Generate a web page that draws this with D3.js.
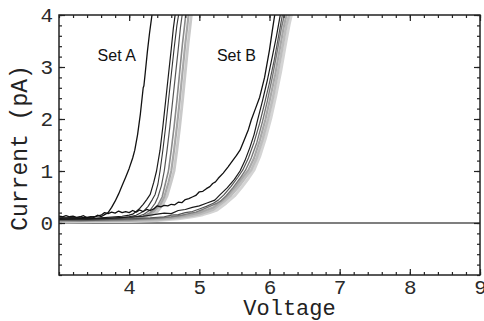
<!DOCTYPE html>
<html>
<head>
<meta charset="utf-8">
<script src="https://cdn.jsdelivr.net/npm/d3@7"></script>
<style>
  body { margin: 0; background: #fff; }
  .tick text { font-family: "Liberation Mono", monospace; font-size: 21px; fill: #2a2a2a; }
</style>
</head>
<body>
<div id="container"></div>
<script>
// tick labels
const xTicks = [4, 5, 6, 7, 8, 9];
const yTicks = [0, 1, 2, 3, 4];
const setLabels = ["Set A", "Set B"];

// Set A traces [voltage, current]
const setA1 = [[3.0,0.13],[3.05,0.12],[3.1,0.14],[3.15,0.12],[3.2,0.13],[3.25,0.11],[3.3,0.12],[3.35,0.14],[3.4,0.1],[3.45,0.12],[3.5,0.11],[3.55,0.15],[3.6,0.12],[3.65,0.16],[3.7,0.2],[3.75,0.3],[3.8,0.42],[3.85,0.56],[3.9,0.72],[3.95,0.88],[4.0,1.05],[4.05,1.25],[4.08,1.4],[4.12,1.7],[4.16,2.1],[4.2,2.6],[4.21,2.64],[4.23,2.9],[4.26,3.3],[4.29,3.65],[4.33,4.05]];
const setA2 = [[3.0,0.09],[3.2,0.1],[3.4,0.08],[3.6,0.1],[3.8,0.12],[3.9,0.13],[4.0,0.15],[4.05,0.17],[4.1,0.22],[4.15,0.28],[4.2,0.36],[4.25,0.45],[4.3,0.55],[4.35,0.78],[4.39,1.0],[4.44,1.4],[4.48,1.85],[4.52,2.35],[4.56,2.85],[4.6,3.35],[4.63,3.75],[4.66,4.05]];
const setA3 = [[3.0,0.07],[3.3,0.08],[3.6,0.08],[3.9,0.1],[4.0,0.12],[4.1,0.15],[4.2,0.22],[4.27,0.32],[4.33,0.45],[4.37,0.55],[4.41,0.75],[4.44,1.0],[4.48,1.4],[4.52,1.85],[4.56,2.35],[4.6,2.85],[4.64,3.35],[4.68,3.8],[4.71,4.05]];
const setA4 = [[3.0,0.06],[3.4,0.06],[3.8,0.08],[4.0,0.1],[4.1,0.12],[4.2,0.16],[4.3,0.25],[4.37,0.38],[4.41,0.5],[4.46,0.72],[4.5,1.0],[4.54,1.4],[4.58,1.85],[4.62,2.35],[4.66,2.85],[4.7,3.35],[4.73,3.75],[4.76,4.05]];
const setA5 = [[3.0,0.05],[3.3,0.04],[3.6,0.06],[3.9,0.07],[4.1,0.1],[4.2,0.13],[4.3,0.2],[4.4,0.32],[4.47,0.5],[4.52,0.78],[4.56,1.0],[4.6,1.4],[4.64,1.85],[4.68,2.35],[4.72,2.9],[4.76,3.45],[4.79,3.8],[4.81,4.05]];
const setA6 = [[3.0,0.04],[3.3,0.05],[3.6,0.04],[3.9,0.06],[4.1,0.08],[4.25,0.14],[4.35,0.22],[4.44,0.34],[4.5,0.5],[4.56,0.78],[4.6,1.0],[4.64,1.4],[4.68,1.85],[4.72,2.35],[4.76,2.9],[4.8,3.45],[4.83,3.8],[4.85,4.05]];
const setA7 = [[3.0,0.03],[3.3,0.04],[3.6,0.05],[3.9,0.05],[4.1,0.07],[4.3,0.14],[4.4,0.22],[4.48,0.36],[4.54,0.52],[4.6,0.8],[4.64,1.0],[4.68,1.4],[4.72,1.85],[4.76,2.35],[4.8,2.9],[4.84,3.45],[4.87,3.8],[4.89,4.05]];

// Set B traces [voltage, current]
const setB1 = [[3.0,0.1],[3.3,0.1],[3.5,0.12],[3.6,0.15],[3.65,0.2],[3.7,0.18],[3.75,0.21],[3.8,0.19],[3.85,0.23],[3.9,0.2],[3.95,0.22],[4.0,0.2],[4.05,0.24],[4.1,0.21],[4.15,0.25],[4.2,0.22],[4.25,0.26],[4.3,0.24],[4.35,0.27],[4.4,0.33],[4.45,0.31],[4.5,0.34],[4.55,0.33],[4.6,0.36],[4.65,0.35],[4.7,0.4],[4.75,0.39],[4.8,0.45],[4.85,0.47],[4.9,0.5],[4.95,0.53],[5.0,0.6],[5.05,0.61],[5.1,0.66],[5.15,0.7],[5.19,0.76],[5.23,0.79],[5.27,0.86],[5.34,0.96],[5.41,1.08],[5.48,1.21],[5.53,1.3],[5.58,1.4],[5.65,1.63],[5.7,1.8],[5.74,1.98],[5.8,2.2],[5.86,2.42],[5.93,2.8],[6.0,3.33],[6.04,3.7],[6.08,4.05]];
const setB2 = [[3.0,0.07],[3.4,0.08],[3.8,0.1],[4.2,0.13],[4.4,0.17],[4.5,0.19],[4.6,0.18],[4.7,0.24],[4.8,0.26],[4.9,0.3],[5.0,0.33],[5.1,0.38],[5.22,0.44],[5.3,0.55],[5.4,0.68],[5.5,0.84],[5.58,1.0],[5.65,1.2],[5.72,1.45],[5.78,1.7],[5.83,1.98],[5.9,2.35],[5.97,2.75],[6.04,3.2],[6.1,3.6],[6.16,4.05]];
const setB3 = [[3.0,0.06],[3.5,0.06],[4.0,0.08],[4.3,0.1],[4.5,0.12],[4.6,0.15],[4.7,0.16],[4.8,0.2],[4.9,0.22],[5.0,0.27],[5.1,0.32],[5.2,0.38],[5.27,0.44],[5.35,0.54],[5.45,0.7],[5.55,0.88],[5.62,1.02],[5.7,1.25],[5.78,1.55],[5.86,1.92],[5.93,2.3],[6.0,2.7],[6.07,3.15],[6.13,3.6],[6.19,4.05]];
const setB4 = [[3.0,0.05],[3.5,0.05],[4.0,0.06],[4.4,0.09],[4.6,0.12],[4.75,0.15],[4.85,0.18],[4.95,0.21],[5.05,0.26],[5.15,0.32],[5.25,0.38],[5.3,0.42],[5.38,0.52],[5.48,0.68],[5.58,0.86],[5.66,1.02],[5.74,1.25],[5.82,1.55],[5.9,1.95],[5.97,2.35],[6.04,2.8],[6.11,3.3],[6.17,3.75],[6.22,4.05]];
const setB5 = [[3.0,0.04],[3.5,0.05],[4.0,0.05],[4.4,0.08],[4.6,0.1],[4.8,0.14],[4.9,0.17],[5.0,0.2],[5.1,0.25],[5.2,0.3],[5.32,0.42],[5.42,0.55],[5.52,0.7],[5.62,0.88],[5.7,1.02],[5.78,1.25],[5.86,1.58],[5.94,1.98],[6.01,2.4],[6.08,2.85],[6.14,3.3],[6.2,3.75],[6.25,4.05]];
const setB6 = [[3.0,0.03],[3.5,0.04],[4.0,0.04],[4.4,0.06],[4.7,0.1],[4.9,0.14],[5.0,0.17],[5.1,0.21],[5.2,0.26],[5.34,0.4],[5.45,0.53],[5.56,0.7],[5.66,0.88],[5.74,1.02],[5.82,1.26],[5.9,1.6],[5.98,2.0],[6.05,2.42],[6.12,2.9],[6.18,3.35],[6.24,3.8],[6.29,4.05]];
const setB7 = [[3.0,0.02],[3.5,0.03],[4.0,0.03],[4.4,0.05],[4.7,0.08],[4.9,0.12],[5.05,0.16],[5.15,0.2],[5.25,0.25],[5.38,0.38],[5.5,0.52],[5.6,0.68],[5.7,0.86],[5.78,1.02],[5.86,1.28],[5.94,1.62],[6.02,2.02],[6.09,2.45],[6.16,2.92],[6.22,3.38],[6.28,3.82],[6.32,4.05]];

const w = 484;
const h = 321;
const padL = 59, padR = 480, padT = 15, padB = 275;

const svg = d3.select("#container")
  .append("svg")
  .attr("width", w)
  .attr("height", h);

const xScale = d3.scaleLinear().domain([3, 9]).range([padL, padR]);
const yScale = d3.scaleLinear().domain([-1, 4]).range([padB, padT]);

svg.append("defs").append("clipPath").attr("id", "plot")
  .append("rect")
  .attr("x", padL).attr("y", padT)
  .attr("width", padR - padL).attr("height", padB - padT);

// zero line
svg.append("line")
  .attr("x1", padL).attr("x2", padR)
  .attr("y1", yScale(0)).attr("y2", yScale(0))
  .attr("stroke", "#555")
  .attr("stroke-width", 1.6);

// light traces first, black on top
const traces = [
  { d: setB7, color: "#d4d4d4", width: 3 },
  { d: setA7, color: "#c9c9c9", width: 2.8 },
  { d: setB6, color: "#bdbdbd", width: 2.6 },
  { d: setA6, color: "#a8a8a8", width: 2.2 },
  { d: setB5, color: "#a8a8a8", width: 2.2 },
  { d: setA5, color: "#8a8a8a", width: 1.6 },
  { d: setB4, color: "#7a7a7a", width: 1.4 },
  { d: setA4, color: "#555", width: 1.2 },
  { d: setB3, color: "#555", width: 1.2 },
  { d: setA3, color: "#333", width: 1.1 },
  { d: setA2, color: "#1a1a1a", width: 1.2 },
  { d: setB2, color: "#1a1a1a", width: 1.2 },
  { d: setB1, color: "#111", width: 1.3 },
  { d: setA1, color: "#111", width: 1.3 }
];

const line = d3.line()
  .x((d) => xScale(d[0]))
  .y((d) => yScale(d[1]));

svg.append("g")
  .attr("clip-path", "url(#plot)")
  .selectAll("path")
  .data(traces)
  .enter()
  .append("path")
  .attr("d", (t) => line(t.d))
  .attr("fill", "none")
  .attr("stroke", (t) => t.color)
  .attr("stroke-width", (t) => t.width)
  .attr("stroke-linejoin", "round");

// minor ticks every 0.2
const xMinor = d3.range(3, 9.001, 0.2);
const yMinor = d3.range(-1, 4.001, 0.2);

function strip(g) {
  g.select(".domain").remove();
  g.selectAll(".tick line").attr("stroke", "#222").attr("stroke-width", 1.2);
}

svg.append("g").attr("transform", "translate(0," + padB + ")")
  .call(d3.axisBottom(xScale).tickValues(xMinor).tickSize(-3).tickFormat(""))
  .call(strip);
svg.append("g").attr("transform", "translate(0," + padT + ")")
  .call(d3.axisTop(xScale).tickValues(xMinor).tickSize(-3).tickFormat(""))
  .call(strip);
svg.append("g").attr("transform", "translate(" + padL + ",0)")
  .call(d3.axisLeft(yScale).tickValues(yMinor).tickSize(-3).tickFormat(""))
  .call(strip);
svg.append("g").attr("transform", "translate(" + padR + ",0)")
  .call(d3.axisRight(yScale).tickValues(yMinor).tickSize(-3).tickFormat(""))
  .call(strip);

// major ticks with labels
svg.append("g").attr("transform", "translate(0," + padB + ")")
  .call(d3.axisBottom(xScale).tickValues(xTicks).tickSize(-6).tickPadding(4).tickFormat(d3.format("d")))
  .call(strip);
svg.append("g").attr("transform", "translate(" + padL + ",0)")
  .call(d3.axisLeft(yScale).tickValues(yTicks).tickSize(-6).tickPadding(6).tickFormat(d3.format("d")))
  .call(strip);
svg.append("g").attr("transform", "translate(0," + padT + ")")
  .call(d3.axisTop(xScale).tickValues(xTicks).tickSize(-6).tickFormat(""))
  .call(strip);
svg.append("g").attr("transform", "translate(" + padR + ",0)")
  .call(d3.axisRight(yScale).tickValues(yTicks).tickSize(-6).tickFormat(""))
  .call(strip);

// frame
svg.append("rect")
  .attr("x", padL).attr("y", padT)
  .attr("width", padR - padL).attr("height", padB - padT)
  .attr("fill", "none")
  .attr("stroke", "#222")
  .attr("stroke-width", 1.5);

// set labels
svg.selectAll(".setlabel")
  .data(setLabels)
  .enter()
  .append("text")
  .attr("class", "setlabel")
  .attr("x", (d, i) => xScale(i === 0 ? 3.55 : 5.25))
  .attr("y", yScale(3.12))
  .attr("font-family", "Liberation Sans, Arial, sans-serif")
  .attr("font-size", 16)
  .attr("fill", "#111")
  .text((d) => d);

// axis titles
svg.append("text")
  .attr("x", (padL + padR) / 2 + 20)
  .attr("y", 315)
  .attr("text-anchor", "middle")
  .attr("font-family", "Liberation Mono, monospace")
  .attr("font-size", 22)
  .attr("fill", "#222")
  .text("Voltage");

svg.append("text")
  .attr("transform", "translate(27," + 148 + ") rotate(-90)")
  .attr("text-anchor", "middle")
  .attr("font-family", "Liberation Mono, monospace")
  .attr("font-size", 23)
  .attr("fill", "#222")
  .text("Current (pA)");
</script>
</body>
</html>
